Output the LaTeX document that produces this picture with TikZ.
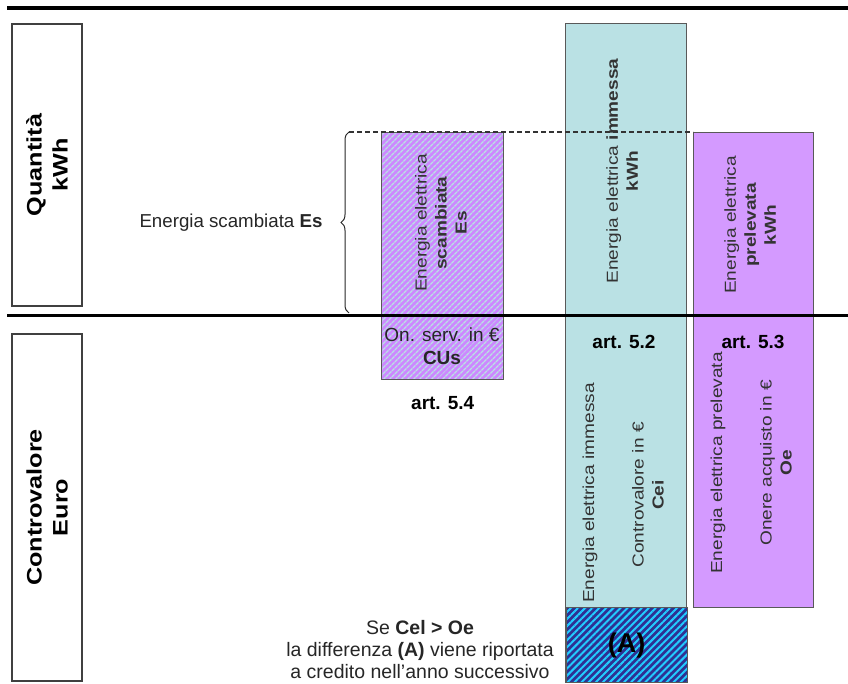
\documentclass[tikz,border=0pt]{standalone}
\usepackage{fontspec}
\setmainfont{Liberation Sans}
\newfontfamily\tallfont[FakeStretch=1.2]{Liberation Sans}
\usetikzlibrary{positioning,patterns.meta,decorations.pathreplacing}
\definecolor{lilla}{HTML}{CC88FF}
\definecolor{azzurro}{HTML}{BAE1E4}
\definecolor{blu}{HTML}{2E3192}
\definecolor{ciano}{HTML}{22CCFF}
\begin{document}
\begin{tikzpicture}[x=1pt,y=1pt,
    label box/.style={draw=black!75, line width=2pt, rotate=90, align=center, inner sep=0pt,
      font=\tallfont\fontsize{21}{26}\selectfont\bfseries},
    bar/.style={draw=black!65, line width=1pt, anchor=north west, inner sep=0pt},
    vtext/.style={rotate=90, align=center, text=black!80, font=\tallfont\fontsize{15.9}{20}\selectfont},
    htext/.style={align=center, text=black!85, font=\fontsize{19}{23}\selectfont},
    art/.style={htext, font=\fontsize{19}{23}\selectfont\bfseries, text=black},
    sep line/.style={line width=3pt, black}]
  \useasboundingbox (0,0) rectangle (848,684);

  % row labels
  \node[label box, minimum width=282pt, minimum height=70pt] (qta) at (47,519) {Quantità\\kWh};
  \node[label box, minimum width=347pt, minimum height=70pt] (euro) at (47,176.5) {Controvalore\\Euro};

  % bars
  \node[bar, preaction={fill=lilla}, pattern={Lines[angle=45,distance=4pt,line width=1.4pt]},
    pattern color=azzurro, minimum width=122pt, minimum height=247pt] (scamb) at (381,552) {};
  \node[bar, fill=azzurro, minimum width=121pt, minimum height=659pt] (imm) at (565,661) {};
  \node[bar, preaction={fill=blu}, pattern={Lines[angle=45,distance=5pt,line width=2pt]},
    pattern color=ciano, minimum width=121pt, minimum height=75pt] (cred) at (565,77) {};
  \node[bar, fill=lilla!85!white, minimum width=120pt, minimum height=475pt] (prel) at (693,552) {};

  % brace and level
  \coordinate (b1) at (349,371);
  \coordinate (b2) at (349,552);
  \draw[black!85, line width=1pt, decorate, decoration={brace, amplitude=8pt}] (b1) -- (b2);
  \draw[black!80, line width=1.3pt, dash pattern=on 5pt off 3pt] (b2) -- (prel.north west);
  \node[anchor=east, text=black!85, font=\fontsize{18.7}{22}\selectfont] (es) at (326,461) {Energia scambiata \textbf{Es}};

  % separators
  \coordinate (s1) at (7,676);
  \coordinate (s2) at (848,676);
  \coordinate (s3) at (7,368);
  \coordinate (s4) at (848,368);
  \draw[sep line, line width=3.5pt] (s1) -- (s2);
  \draw[sep line] (s3) -- (s4);

  % texts
  \node[vtext] (t1) at (441,461) {Energia elettrica\\\textbf{scambiata}\\\textbf{Es}};
  \node[htext] (t2) at (442,338) {On. serv. in €\\\textbf{CUs}};
  \node[art, below=13pt of scamb] (a54) {art. 5.4};
  \node[vtext] (t3) at (622,513) {Energia elettrica \textbf{immessa}\\\textbf{kWh}};
  \node[art] (a52) at (624,342) {art. 5.2};
  \node[vtext] (t4) at (590,191) {Energia elettrica immessa};
  \node[vtext] (t5) at (648,189) {Controvalore in €\\\textbf{Cei}};
  \node[font=\fontsize{27}{30}\selectfont\bfseries] (t6) at (cred.center) {(A)};
  \node[vtext] (t7) at (750,459) {Energia elettrica\\\textbf{prelevata}\\\textbf{kWh}};
  \node[art] (a53) at (753,342) {art. 5.3};
  \node[vtext] (t8) at (718,221) {Energia elettrica prelevata};
  \node[vtext] (t9) at (776,221) {Onere acquisto in €\\\textbf{Oe}};
  \node[htext, font=\fontsize{19.5}{22}\selectfont] (nota) at (420,34)
    {Se \textbf{Cel > Oe}\\la differenza \textbf{(A)} viene riportata\\a credito nell'anno successivo};
\end{tikzpicture}
\end{document}
